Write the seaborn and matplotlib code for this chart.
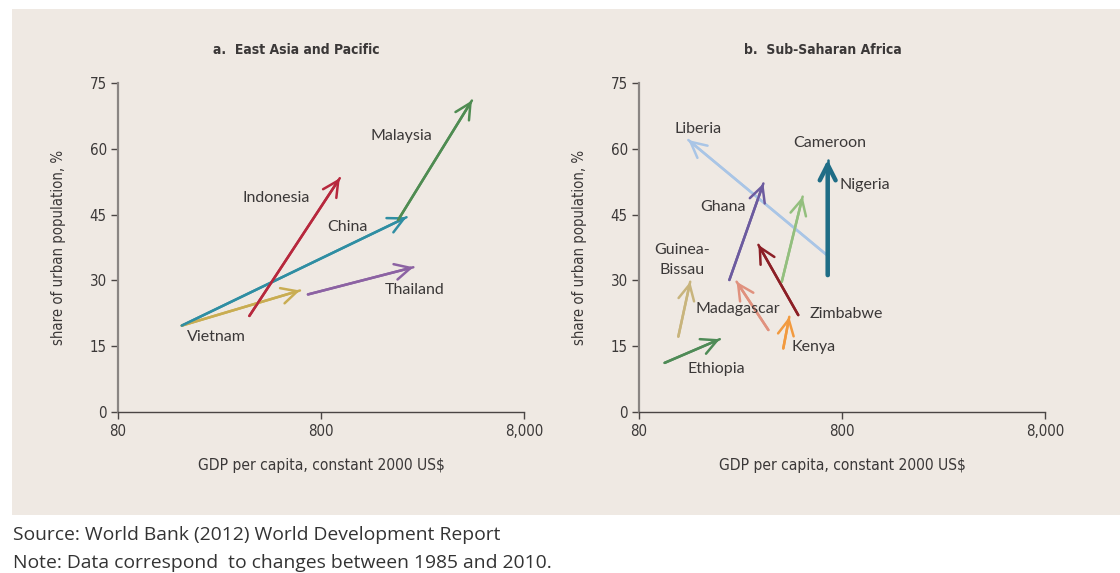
import matplotlib
matplotlib.use("Agg")
import matplotlib.pyplot as plt
from matplotlib.patches import Rectangle
from matplotlib.ticker import FixedLocator, NullLocator
import pandas as pd
import seaborn as sns

# ---- East Asia and Pacific: changes between 1985 and 2010 ----
eap_countries = ["Vietnam", "China", "Indonesia", "Malaysia", "Thailand"]
eap_gdp_1985 = [165, 165, 355, 1920, 690]
eap_gdp_2010 = [630, 2110, 990, 4430, 2280]
eap_urban_1985 = [19.7, 19.7, 21.9, 43.8, 26.8]
eap_urban_2010 = [27.7, 44.4, 53.3, 71.0, 33.0]

# ---- Sub-Saharan Africa: changes between 1985 and 2010 ----
ssa_countries = ["Liberia", "Cameroon", "Nigeria", "Ghana", "Zimbabwe",
                 "Madagascar", "Kenya", "Guinea-Bissau", "Ethiopia"]
ssa_gdp_1985 = [673, 680, 404, 223, 487, 347, 411, 125, 107]
ssa_gdp_2010 = [140, 680, 512, 328, 310, 242, 440, 143, 200]
ssa_urban_1985 = [35.8, 31.2, 29.7, 30.1, 22.1, 18.7, 14.5, 17.2, 11.2]
ssa_urban_2010 = [62.0, 57.5, 49.1, 52.1, 38.1, 29.7, 21.7, 29.7, 16.6]

x_ticks = [80, 800, 8000]
x_ticklabels = ["80", "800", "8,000"]
y_ticks = [0, 15, 30, 45, 60, 75]

eap_colors = {
    "Vietnam": "#c9ad52", "China": "#2f8ea3", "Indonesia": "#b7283d",
    "Malaysia": "#4f8c52", "Thailand": "#8c62a3",
}
ssa_colors = {
    "Liberia": "#a9c5e6", "Cameroon": "#1f6d86", "Nigeria": "#93bf7e",
    "Ghana": "#6c5b9f", "Zimbabwe": "#8c1f26", "Madagascar": "#e0917e",
    "Kenya": "#f29a3f", "Guinea-Bissau": "#c8b47c", "Ethiopia": "#4f8b57",
}

# where each country name sits (data coordinates)
eap_label_pos = {
    "Malaysia": (2000, 62.9), "Indonesia": (480, 48.7), "China": (1080, 42.2),
    "Thailand": (2320, 27.8), "Vietnam": (245, 17.0),
}
ssa_label_pos = {
    "Liberia": (157, 64.5), "Cameroon": (698, 61.3), "Nigeria": (1040, 51.8),
    "Ghana": (208, 46.7), "Guinea-Bissau": (130, 34.7), "Madagascar": (244, 23.4),
    "Zimbabwe": (844, 22.3), "Kenya": (578, 14.9), "Ethiopia": (193, 9.7),
}

sns.set_theme(style="ticks")
BG = "#efe9e3"
TXT = "#3b3838"
NARROW = dict(family=["DejaVu Sans"], stretch="condensed")
LABEL_FONT = ["Lato", "DejaVu Sans"]
NOTE_FONT = ["Open Sans", "DejaVu Sans"]

fig = plt.figure(figsize=(11.2, 5.73), dpi=100, facecolor="white")
fig.patches.append(Rectangle((12 / 1120, 1 - 515 / 573), 1 - 12 / 1120, (515 - 9) / 573,
                             transform=fig.transFigure, facecolor=BG,
                             edgecolor="none", zorder=-5))


def to_long(countries, g0, g1, u0, u1):
    rows = []
    for c, a, b, p, q in zip(countries, g0, g1, u0, u1):
        rows.append({"country": c, "year": 1985, "gdp": a, "urban": p})
        rows.append({"country": c, "year": 2010, "gdp": b, "urban": q})
    return pd.DataFrame(rows)


def draw_panel(ax, countries, g0, g1, u0, u1, colors, label_pos):
    df = to_long(countries, g0, g1, u0, u1)
    ax.set_xscale("log")
    sns.lineplot(data=df, x="gdp", y="urban", hue="country", palette=colors,
                 estimator=None, sort=False, legend=False, lw=1.8, ax=ax,
                 zorder=3)
    for c, a, b, p, q in zip(countries, g0, g1, u0, u1):
        lw = 3.2 if c == "Cameroon" else 1.8
        ax.annotate("", xy=(b, q), xytext=(a, p),
                    arrowprops=dict(arrowstyle="->,head_length=0.75,head_width=0.38",
                                    mutation_scale=15, lw=lw, color=colors[c],
                                    shrinkA=0, shrinkB=0), zorder=4)
    for c, (x, y) in label_pos.items():
        text = "Guinea-\nBissau" if c == "Guinea-Bissau" else c
        ax.text(x, y, text, ha="center", va="center", fontsize=11.5,
                color=TXT, family=LABEL_FONT, linespacing=1.5, zorder=5)

    ax.set_xlim(80, 8000)
    ax.set_ylim(0, 75)
    ax.set_facecolor("none")
    ax.xaxis.set_major_locator(FixedLocator(x_ticks))
    ax.xaxis.set_minor_locator(NullLocator())
    ax.set_xticklabels(x_ticklabels)
    ax.set_yticks(y_ticks)
    for s in ("top", "right"):
        ax.spines[s].set_visible(False)
    ax.spines["left"].set_color("#8a8583")
    ax.spines["left"].set_linewidth(1.6)
    ax.spines["bottom"].set_color("#4a4544")
    ax.spines["bottom"].set_linewidth(1.0)
    ax.tick_params(axis="y", direction="out", length=5, width=1.0,
                   color="#4a4544", labelcolor=TXT, labelsize=10.8, pad=3)
    ax.tick_params(axis="x", direction="out", length=5, width=1.0,
                   color="#4a4544", labelcolor=TXT, labelsize=10.8, pad=4)
    for lab in ax.get_xticklabels() + ax.get_yticklabels():
        lab.set_family(NARROW["family"])
        lab.set_stretch(NARROW["stretch"])
    ax.set_xlabel("GDP per capita, constant 2000 US$", fontsize=11.2,
                  color=TXT, labelpad=13, **NARROW)
    ax.set_ylabel("share of urban population, %", fontsize=10.7,
                  color=TXT, labelpad=17, **NARROW)


ax_l = fig.add_axes([118 / 1120, 1 - 412 / 573, 406 / 1120, 329 / 573])
ax_r = fig.add_axes([639 / 1120, 1 - 412 / 573, 406 / 1120, 329 / 573])

draw_panel(ax_l, eap_countries, eap_gdp_1985, eap_gdp_2010,
           eap_urban_1985, eap_urban_2010, eap_colors, eap_label_pos)
draw_panel(ax_r, ssa_countries, ssa_gdp_1985, ssa_gdp_2010,
           ssa_urban_1985, ssa_urban_2010, ssa_colors, ssa_label_pos)

fig.text(296 / 1120, 1 - 50 / 573, "a.  East Asia and Pacific", ha="center",
         va="center", fontsize=10, fontweight="bold", color=TXT, **NARROW)
fig.text(823 / 1120, 1 - 50 / 573, "b.  Sub-Saharan Africa", ha="center",
         va="center", fontsize=10, fontweight="bold", color=TXT, **NARROW)

fig.text(13 / 1120, 1 - 535 / 573, "Source: World Bank (2012) World Development Report",
         ha="left", va="center", fontsize=13.9, color="#333333", family=NOTE_FONT)
fig.text(13 / 1120, 1 - 563 / 573, "Note: Data correspond  to changes between 1985 and 2010.",
         ha="left", va="center", fontsize=13.9, color="#333333", family=NOTE_FONT)

fig.savefig("out.png", dpi=100, facecolor="white")
